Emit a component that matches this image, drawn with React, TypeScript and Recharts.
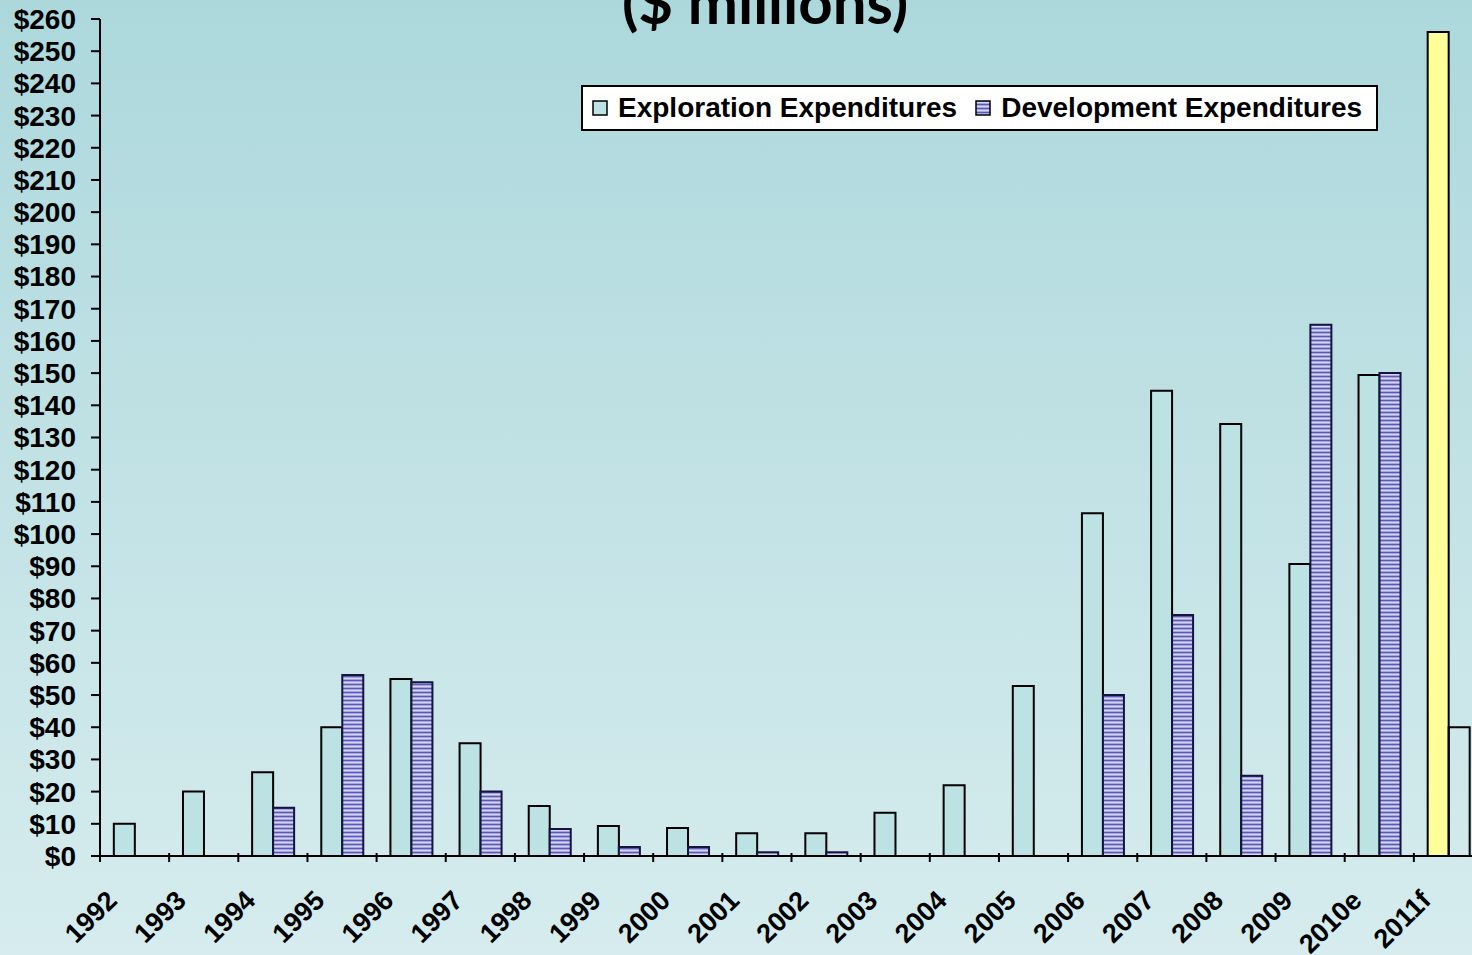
import React from 'react';
import { BarChart, Bar, XAxis, YAxis, Legend, Cell } from 'recharts';

const years = ['1992', '1993', '1994', '1995', '1996', '1997', '1998', '1999', '2000', '2001',
  '2002', '2003', '2004', '2005', '2006', '2007', '2008', '2009', '2010e', '2011f'];
const exploration = [10, 20, 26, 40, 55, 35, 15.5, 9.3, 8.7, 7.1, 7.1, 13.4, 22, 52.8, 106.5, 144.5, 134.2, 90.7, 149.4, 256];
const development = [0, 0, 15, 56.2, 54, 20, 8.4, 2.8, 2.8, 1.2, 1.2, 0, 0, 0, 50, 74.9, 24.9, 165, 150, 40];
const yTicks = [0, 10, 20, 30, 40, 50, 60, 70, 80, 90, 100, 110, 120, 130, 140, 150, 160, 170, 180, 190,
  200, 210, 220, 230, 240, 250, 260];

const data = years.map((year, i) => ({ year, exploration: exploration[i], development: development[i] }));

const FONT = '"Liberation Sans", Arial, sans-serif';
const EXPL = '#bde2e4';

function XTick(props: any) {
  const { x, y, payload } = props;
  const half = payload.offset ?? 34.6;
  const ax = x - 16;
  const ay = y + 38;
  return (
    <g>
      <line x1={x - half} y1={y - 11} x2={x - half} y2={y - 2} stroke="#000" strokeWidth={2} />
      <text x={ax} y={ay} transform={`rotate(-45, ${ax}, ${ay})`} textAnchor="end"
        fontFamily={FONT} fontWeight="bold" fontSize={27} fill="#000">
        {payload.value}
      </text>
    </g>
  );
}

function LegendBox() {
  const item = (label: string, fill: string) => (
    <div style={{ display: 'flex', alignItems: 'center' }}>
      <svg width={16} height={16} style={{ marginRight: 10 }}>
        <rect x={1} y={1} width={14} height={14} fill={fill} stroke="#000" strokeWidth={1.5} />
      </svg>
      <span>{label}</span>
    </div>
  );
  return (
    <div style={{
      width: 797, height: 46, boxSizing: 'border-box', border: '2px solid #000', background: '#fff',
      display: 'flex', alignItems: 'center', gap: 18, paddingLeft: 9,
      fontFamily: FONT, fontWeight: 'bold', fontSize: 28, color: '#000'
    }}>
      {item('Exploration Expenditures', EXPL)}
      {item('Development Expenditures', 'url(#devStripes)')}
    </div>
  );
}

export default function App() {
  return (
    <div style={{
      position: 'fixed', left: 0, top: 0, width: 1472, height: 955, overflow: 'hidden',
      background: 'linear-gradient(to bottom, #acd8dc 0%, #c4e3e6 55%, #d6ecee 100%)'
    }}>
      <div style={{
        position: 'absolute', left: 0, width: 1530, top: -29, textAlign: 'center',
        fontFamily: 'Lato, "Open Sans", sans-serif', fontWeight: 'bold', fontSize: 60, lineHeight: '60px'
      }}>
        ($ millions)
      </div>
      <svg width={0} height={0} style={{ position: 'absolute' }}>
        <defs>
          <pattern id="devStripes" patternUnits="userSpaceOnUse" width={4} height={4}>
            <rect width={4} height={4} fill="#a4a4e0" />
            <rect y={0} width={4} height={1} fill="#5a5ab4" />
            <rect y={2} width={4} height={1} fill="#d4d4f6" />
          </pattern>
        </defs>
      </svg>
      <BarChart width={1490} height={955} data={data} barGap={0} barCategoryGap="20%"
        margin={{ top: 19, right: 7, bottom: 0, left: 0 }}>
        <XAxis dataKey="year" height={99} interval={0} tick={<XTick />} tickLine={false}
          axisLine={{ stroke: '#000', strokeWidth: 2 }} />
        <YAxis domain={[0, 260]} ticks={yTicks} interval={0} width={100} tickSize={9} tickMargin={15}
          tickFormatter={(v: number) => `$${v}`}
          tick={{ fill: '#000', fontFamily: FONT, fontWeight: 'bold', fontSize: 28 }}
          tickLine={{ stroke: '#000', strokeWidth: 2 }} axisLine={{ stroke: '#000', strokeWidth: 2 }} />
        <Legend layout="horizontal" verticalAlign="middle" align="center"
          wrapperStyle={{ top: 85, left: 581, width: 797 }} content={<LegendBox />} />
        <Bar dataKey="exploration" name="Exploration Expenditures" fill={EXPL} stroke="#000" strokeWidth={2}
          isAnimationActive={false}>
          {data.map((d, i) => (
            <Cell key={`e-${i}`} fill={d.year === '2011f' ? '#ffff99' : EXPL} />
          ))}
        </Bar>
        <Bar dataKey="development" name="Development Expenditures" fill="url(#devStripes)" stroke="#14143c"
          strokeWidth={2} isAnimationActive={false}>
          {data.map((d, i) => (
            <Cell key={`d-${i}`} fill={d.year === '2011f' ? 'none' : 'url(#devStripes)'}
              stroke={d.year === '2011f' ? '#000' : '#14143c'} />
          ))}
        </Bar>
      </BarChart>
    </div>
  );
}
